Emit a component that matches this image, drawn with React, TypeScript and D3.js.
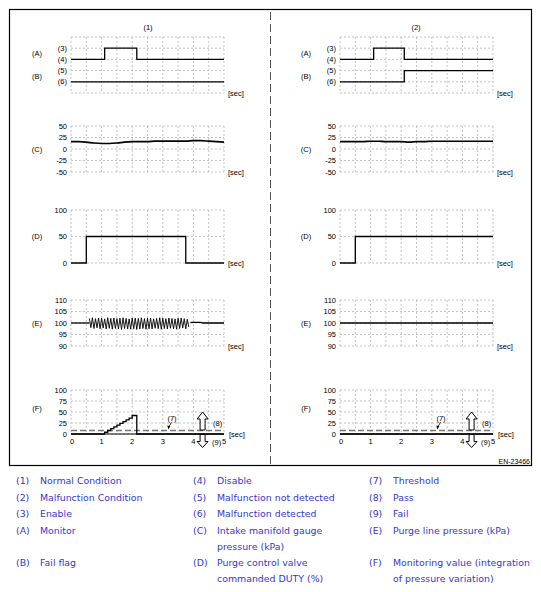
import React from "react";
import * as d3 from "d3";

// ---------- data ----------
const gridTimes = [0, 0.5, 1, 1.5, 2, 2.5, 3, 3.5, 4, 4.5, 5];
const secTicks = [0, 1, 2, 3, 4, 5];

// (A)/(B) monitor & fail flag (levels: 1=(6), 2=(5), 3=(4), 4=(3))
const abLevels = [0, 1, 2, 3, 4, 5];
const abLevelLabels = ["", "(6)", "(5)", "(4)", "(3)", ""];
const monitorTimesL = [0, 1.1, 2.15, 5];
const monitorValsL = [3, 4, 3, 3];
const failTimesL = [0, 5];
const failValsL = [1, 1];
const monitorTimesR = [0, 1.1, 2.1, 5];
const monitorValsR = [3, 4, 3, 3];
const failTimesR = [0, 2.1, 5];
const failValsR = [1, 2, 2];

// (C) intake manifold gauge pressure
const mapTicks = [50, 25, 0, -25, -50];
const mapTimes = [0, 0.25, 0.5, 0.75, 1, 1.25, 1.5, 1.75, 2, 2.25, 2.5, 2.75, 3, 3.25, 3.5, 3.75, 4, 4.25, 4.5, 4.75, 5];
const mapValsL = [16, 16, 15, 13, 12, 12, 13, 15, 16, 16, 16, 17, 17, 17, 17, 17, 18, 18, 17, 16, 15];
const mapValsR = [16, 16, 16, 16, 17, 17, 16, 16, 16, 15, 16, 16, 17, 17, 17, 17, 17, 17, 17, 17, 17];

// (D) purge control valve duty
const dutyTicks = [100, 50, 0];
const dutyTimesL = [0, 0.5, 3.75, 5];
const dutyValsL = [0, 50, 0, 0];
const dutyTimesR = [0, 0.5, 5];
const dutyValsR = [0, 50, 50];

// (E) purge line pressure
const purgeTicks = [110, 105, 100, 95, 90];
const purgeHeadTimesL = [0, 0.6];
const purgeHeadValsL = [100, 100];
const purgeOscStart = 0.6;
const purgeOscStep = 0.05;
const purgeOscL = [
  102.0, 98.0, 102.3, 97.6, 101.9, 97.9, 102.2, 97.5, 102.1, 97.8, 101.8, 97.4,
  102.3, 97.7, 102.0, 97.3, 102.2, 97.6, 101.9, 97.5, 102.1, 97.2, 102.3, 97.6,
  102.0, 97.4, 101.8, 97.3, 102.2, 97.5, 102.1, 97.2, 102.0, 97.4, 102.3, 97.6,
  101.9, 97.3, 102.1, 97.5, 102.2, 97.4, 101.8, 97.7, 102.0, 97.5, 102.3, 97.3,
  102.1, 97.6, 101.9, 97.4, 102.2, 97.7, 102.0, 97.5, 101.8, 97.3, 102.1, 97.6,
  102.2, 97.8, 101.9, 97.5, 101.6, 98.2,
];
const purgeTailTimesL = [3.9, 3.95, 4.25, 4.3, 5];
const purgeTailValsL = [100.2, 100.3, 100.3, 100, 100];
const purgeTimesR = [0, 5];
const purgeValsR = [100, 100];

// (F) monitoring value
const monTicks = [100, 75, 50, 25, 0];
const monTimesL = [0, 1.1, 1.2, 1.3, 1.4, 1.5, 1.6, 1.7, 1.8, 1.9, 2.0, 2.15, 5];
const monValsL = [0, 4, 8, 12, 16, 20, 24, 28, 32, 36, 42, 0, 0];
const monTimesR = [0, 5];
const monValsR = [0, 0];
const thresholdValue = 8;
const judgeArrowTime = 4.3;
const thresholdLabelTime = 3.3;
const thresholdLabelValue = 36;
const thresholdPointTime = 3.18;

// legend
const legendCodes1 = ["(1)", "(2)", "(3)", "(A)", "(B)"];
const legendTexts1 = [["Normal Condition"], ["Malfunction Condition"], ["Enable"], ["Monitor"], ["Fail flag"]];
const legendCodes2 = ["(4)", "(5)", "(6)", "(C)", "(D)"];
const legendTexts2 = [["Disable"], ["Malfunction not detected"], ["Malfunction detected"], ["Intake manifold gauge", "pressure (kPa)"], ["Purge control valve", "commanded DUTY (%)"]];
const legendCodes3 = ["(7)", "(8)", "(9)", "(E)", "(F)"];
const legendTexts3 = [["Threshold"], ["Pass"], ["Fail"], ["Purge line pressure (kPa)"], ["Monitoring value (integration", "of pressure variation)"]];

const figureId = "EN-23466";

// ---------- layout ----------
const W = 541;
const H = 592;
const gridW = 153;
const leftX0 = 71;
const rightX0 = 340;
const codeOffset = 34;
const chartFont = "'Liberation Sans', Arial, sans-serif";
const legendFont = "'DejaVu Sans', Verdana, sans-serif";
const legendColor = "#3838c4";
const gridColor = "#b4b4b4";

type Series = { t: number[]; v: number[]; curve: any; w?: number };

const zip = (t: number[], v: number[]) => t.map((tt, i) => [tt, v[i]] as [number, number]);

function Panel(props: {
  x0: number;
  top: number;
  bottom: number;
  domain: [number, number];
  hLines: number[];
  hLabels: string[];
  codes: { code: string; value: number }[];
  series: Series[];
  showSecAxis?: boolean;
  threshold?: boolean;
}) {
  const { x0, top, bottom, domain, hLines, hLabels, codes, series, showSecAxis, threshold } = props;
  const x = d3.scaleLinear().domain([0, 5]).range([x0, x0 + gridW]);
  const y = d3.scaleLinear().domain(domain).range([bottom, top]);
  const fs = 7.5;
  return (
    <g>
      {gridTimes.map((t) => (
        <line key={"v" + t} x1={x(t)} x2={x(t)} y1={top} y2={bottom} stroke={gridColor} strokeWidth={0.8} strokeDasharray="2,2" />
      ))}
      {hLines.map((v) => (
        <line key={"h" + v} x1={x0} x2={x0 + gridW} y1={y(v)} y2={y(v)} stroke={gridColor} strokeWidth={0.8} strokeDasharray="2,2" />
      ))}
      {hLines.map((v, i) => (
        <text key={"l" + v} x={x0 - 4} y={y(v)} fontSize={fs} fontFamily={chartFont} textAnchor="end" dominantBaseline="central">
          {hLabels[i]}
        </text>
      ))}
      {codes.map((c) => (
        <text key={c.code} x={x0 - codeOffset} y={y(c.value)} fontSize={fs} fontFamily={chartFont} textAnchor="middle" dominantBaseline="central">
          {c.code}
        </text>
      ))}
      {showSecAxis && (
        <line x1={x0} x2={x0 + gridW} y1={y(0)} y2={y(0)} stroke="#000" strokeWidth={1.2} />
      )}
      {threshold && (
        <line x1={x0} x2={x0 + gridW} y1={y(thresholdValue)} y2={y(thresholdValue)} stroke="#777" strokeWidth={1.4} strokeDasharray="6,3" />
      )}
      {series.map((s, i) => {
        const gen = d3.line<[number, number]>().x((d) => x(d[0])).y((d) => y(d[1])).curve(s.curve);
        return <path key={"s" + i} d={gen(zip(s.t, s.v)) || ""} fill="none" stroke="#000" strokeWidth={s.w ?? 1.3} />;
      })}
      {showSecAxis ? (
        <>
          {secTicks.map((t) => (
            <text key={"t" + t} x={x(t) + (t === 0 ? 1 : 0)} y={bottom + 7} fontSize={fs} fontFamily={chartFont} textAnchor="middle" dominantBaseline="central">
              {t}
            </text>
          ))}
          <text x={x0 + gridW + 5} y={y(0)} fontSize={fs} fontFamily={chartFont} dominantBaseline="central">[sec]</text>
        </>
      ) : (
        <text x={x0 + gridW + 4} y={bottom} fontSize={fs} fontFamily={chartFont} dominantBaseline="central">[sec]</text>
      )}
      {threshold && (() => {
        const cx = x(judgeArrowTime);
        const ty = y(thresholdValue) - 0.5;
        const ay = y(0) + 0.5;
        const up = `M${cx - 2.5},${ty} L${cx - 2.5},${ty - 11} L${cx - 5.5},${ty - 11} L${cx},${ty - 18} L${cx + 5.5},${ty - 11} L${cx + 2.5},${ty - 11} L${cx + 2.5},${ty} Z`;
        const dn = `M${cx - 2.5},${ay} L${cx - 2.5},${ay + 7} L${cx - 5.5},${ay + 7} L${cx},${ay + 13} L${cx + 5.5},${ay + 7} L${cx + 2.5},${ay + 7} L${cx + 2.5},${ay} Z`;
        const lx = x(thresholdLabelTime);
        const ly = y(thresholdLabelValue);
        const px = x(thresholdPointTime);
        const py = y(thresholdValue) - 1;
        return (
          <g>
            <path d={up} fill="#fff" stroke="#000" strokeWidth={1} />
            <path d={dn} fill="#fff" stroke="#000" strokeWidth={1} />
            <text x={cx + 15} y={y(25)} fontSize={fs} fontFamily={chartFont} textAnchor="middle" dominantBaseline="central">(8)</text>
            <text x={cx + 14} y={ay + 8} fontSize={fs} fontFamily={chartFont} textAnchor="middle" dominantBaseline="central">(9)</text>
            <text x={lx} y={ly} fontSize={fs} fontFamily={chartFont} textAnchor="middle" dominantBaseline="central">(7)</text>
            <line x1={lx - 0.5} y1={ly + 4} x2={px + 0.6} y2={py - 2.5} stroke="#000" strokeWidth={0.8} />
            <path d={`M${px},${py} L${px - 1},${py - 4} L${px + 2},${py - 3.2} Z`} fill="#000" />
          </g>
        );
      })()}
    </g>
  );
}

function Side({ x0, right }: { x0: number; right: boolean }) {
  const oscTimes = purgeOscL.map((_, i) => purgeOscStart + purgeOscStep * i);
  return (
    <g>
      <Panel
        x0={x0} top={37} bottom={93} domain={[0, 5]}
        hLines={abLevels} hLabels={abLevelLabels}
        codes={[{ code: "(A)", value: 3.5 }, { code: "(B)", value: 1.5 }]}
        series={right
          ? [{ t: monitorTimesR, v: monitorValsR, curve: d3.curveStepAfter }, { t: failTimesR, v: failValsR, curve: d3.curveStepAfter }]
          : [{ t: monitorTimesL, v: monitorValsL, curve: d3.curveStepAfter }, { t: failTimesL, v: failValsL, curve: d3.curveStepAfter }]}
      />
      <Panel
        x0={x0} top={126} bottom={172} domain={[-50, 50]}
        hLines={mapTicks} hLabels={mapTicks.map(String)}
        codes={[{ code: "(C)", value: -2 }]}
        series={[{ t: mapTimes, v: right ? mapValsR : mapValsL, curve: d3.curveMonotoneX, w: right ? 1.6 : 1.7 }]}
      />
      <Panel
        x0={x0} top={210} bottom={263} domain={[0, 100]}
        hLines={dutyTicks} hLabels={dutyTicks.map(String)}
        codes={[{ code: "(D)", value: 50 }]}
        series={[right
          ? { t: dutyTimesR, v: dutyValsR, curve: d3.curveStepAfter }
          : { t: dutyTimesL, v: dutyValsL, curve: d3.curveStepAfter }]}
      />
      <Panel
        x0={x0} top={300} bottom={346} domain={[90, 110]}
        hLines={purgeTicks} hLabels={purgeTicks.map(String)}
        codes={[{ code: "(E)", value: 100 }]}
        series={right
          ? [{ t: purgeTimesR, v: purgeValsR, curve: d3.curveLinear }]
          : [
              { t: purgeHeadTimesL, v: purgeHeadValsL, curve: d3.curveLinear },
              { t: oscTimes, v: purgeOscL, curve: d3.curveLinear, w: 0.9 },
              { t: purgeTailTimesL, v: purgeTailValsL, curve: d3.curveLinear },
            ]}
      />
      <Panel
        x0={x0} top={390} bottom={434} domain={[0, 100]}
        hLines={monTicks} hLabels={monTicks.map(String)}
        codes={[{ code: "(F)", value: 59 }]}
        showSecAxis threshold
        series={[right
          ? { t: monTimesR, v: monValsR, curve: d3.curveStepAfter }
          : { t: monTimesL, v: monValsL, curve: d3.curveStepAfter }]}
      />
    </g>
  );
}

function Legend() {
  const rowY = [480, 497, 513, 530, 562];
  const lineGap = 16;
  const cols = [
    { codes: legendCodes1, texts: legendTexts1, cx: 16, tx: 40 },
    { codes: legendCodes2, texts: legendTexts2, cx: 193, tx: 217 },
    { codes: legendCodes3, texts: legendTexts3, cx: 369, tx: 393 },
  ];
  return (
    <g fontFamily={legendFont} fontSize={9.4} fill={legendColor}>
      {cols.map((c, ci) =>
        c.codes.map((code, i) => (
          <g key={ci + "-" + i}>
            <text x={c.cx} y={rowY[i]} dominantBaseline="central">{code}</text>
            {c.texts[i].map((line, li) => (
              <text key={li} x={c.tx} y={rowY[i] + li * lineGap} dominantBaseline="central">{line}</text>
            ))}
          </g>
        ))
      )}
    </g>
  );
}

export default function App() {
  return (
    <svg width={W} height={H} style={{ position: "absolute", left: 0, top: 0, background: "#fff" }}>
      <rect x={0} y={0} width={W} height={H} fill="#fff" />
      <rect x={9.5} y={9.5} width={522} height={456} fill="none" stroke="#000" strokeWidth={1.2} />
      <line x1={270.5} x2={270.5} y1={12} y2={464} stroke="#555" strokeWidth={1} strokeDasharray="8,4" />
      <text x={148} y={27} fontSize={7.5} fontFamily={chartFont} textAnchor="middle" dominantBaseline="central">(1)</text>
      <text x={416} y={27} fontSize={7.5} fontFamily={chartFont} textAnchor="middle" dominantBaseline="central">(2)</text>
      <Side x0={leftX0} right={false} />
      <Side x0={rightX0} right={true} />
      <text x={530} y={461} fontSize={7} fontFamily={chartFont} textAnchor="end" dominantBaseline="central">{figureId}</text>
      <Legend />
    </svg>
  );
}
